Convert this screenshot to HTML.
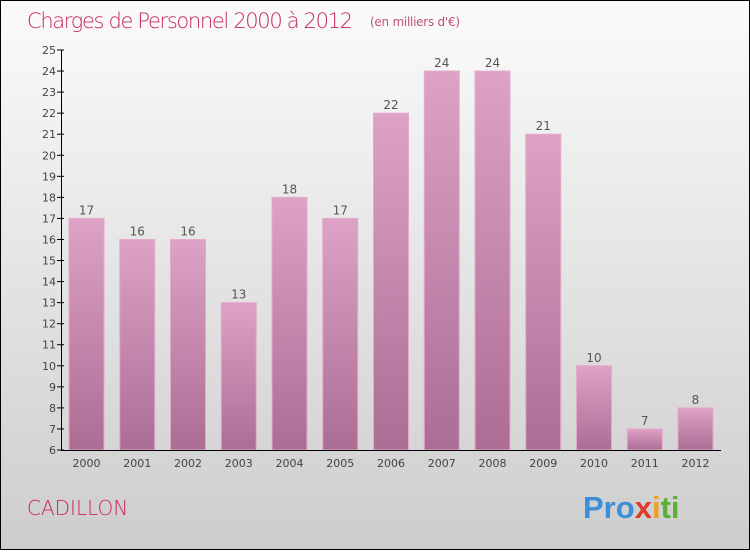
<!DOCTYPE html>
<html><head><meta charset="utf-8"><style>
body{margin:0;width:750px;height:550px;overflow:hidden}
#c{position:relative;width:748px;height:548px;border:1px solid #000;background:linear-gradient(#fbfbfb,#cdcdcd);font-family:"DejaVu Sans","Liberation Sans",sans-serif}
</style></head><body>
<div id="c">
<svg id="s" width="748" height="548">
<defs><linearGradient id="g" x1="0" y1="0" x2="0" y2="1"><stop offset="0" stop-color="#dea2c6"/><stop offset="1" stop-color="#ac6d94"/></linearGradient></defs>
<text x="26" y="27" font-size="21" fill="#c8285a" font-family="DejaVu Sans" font-weight="200" textLength="326">Charges de Personnel 2000 à 2012</text>
<text x="369" y="25" font-size="12" fill="#c0507a" textLength="90">(en milliers d'€)</text>
<text x="26" y="514" font-size="20" fill="#c8285a" font-weight="200">CADILLON</text>
<g font-size="31" font-weight="bold" font-family="Liberation Sans">
<text x="582" y="517"><tspan fill="#3a8fd8">Pro</tspan><tspan fill="#e03a2a">x</tspan><tspan fill="#f0a020">i</tspan><tspan fill="#5ab030">ti</tspan></text></g>
<g id="plot"></g>
</svg></div>
<script>
const years=["2000","2001","2002","2003","2004","2005","2006","2007","2008","2009","2010","2011","2012"];
const values=[17,16,16,13,18,17,22,24,24,21,10,7,8];
const yTicks=[6,7,8,9,10,11,12,13,14,15,16,17,18,19,20,21,22,23,24,25];
const NS="http://www.w3.org/2000/svg";
const p=document.getElementById('plot');
const y=v=>449-(v-6)*(400/19);
const x0=60,step=50.75;
const xc=i=>x0+25.5+i*step;
function mk(t,a){const e=document.createElementNS(NS,t);for(const k in a)e.setAttribute(k,a[k]);p.appendChild(e);return e;}
values.forEach((v,i)=>{
 const r=mk('rect',{x:xc(i)-17.5,y:y(v),width:35,height:y(6)-y(v),fill:'url(#g)',stroke:'#e6a9cc','stroke-width':1});
 
 
 const t=mk('text',{x:xc(i),y:y(v)-4,'text-anchor':'middle','font-size':12,fill:'#555'});t.textContent=v;
 
 
 const tl=mk('text',{x:xc(i),y:466,'text-anchor':'middle','font-size':11,fill:'#444'});tl.textContent=years[i];
 
 
});
yTicks.forEach(v=>{
 const l=mk('line',{x1:56,x2:63,y1:y(v),y2:y(v),stroke:'#000'});
 
 
 const t=mk('text',{x:55,y:y(v)+4,'text-anchor':'end','font-size':11,fill:'#444'});t.textContent=v;
 
 
});
const ay=mk('line',{x1:60.5,x2:60.5,y1:y(25),y2:y(6),stroke:'#000'});


const ax=mk('line',{x1:60,x2:720,y1:y(6)+0.5,y2:y(6)+0.5,stroke:'#000'});


</script>
</body></html>
